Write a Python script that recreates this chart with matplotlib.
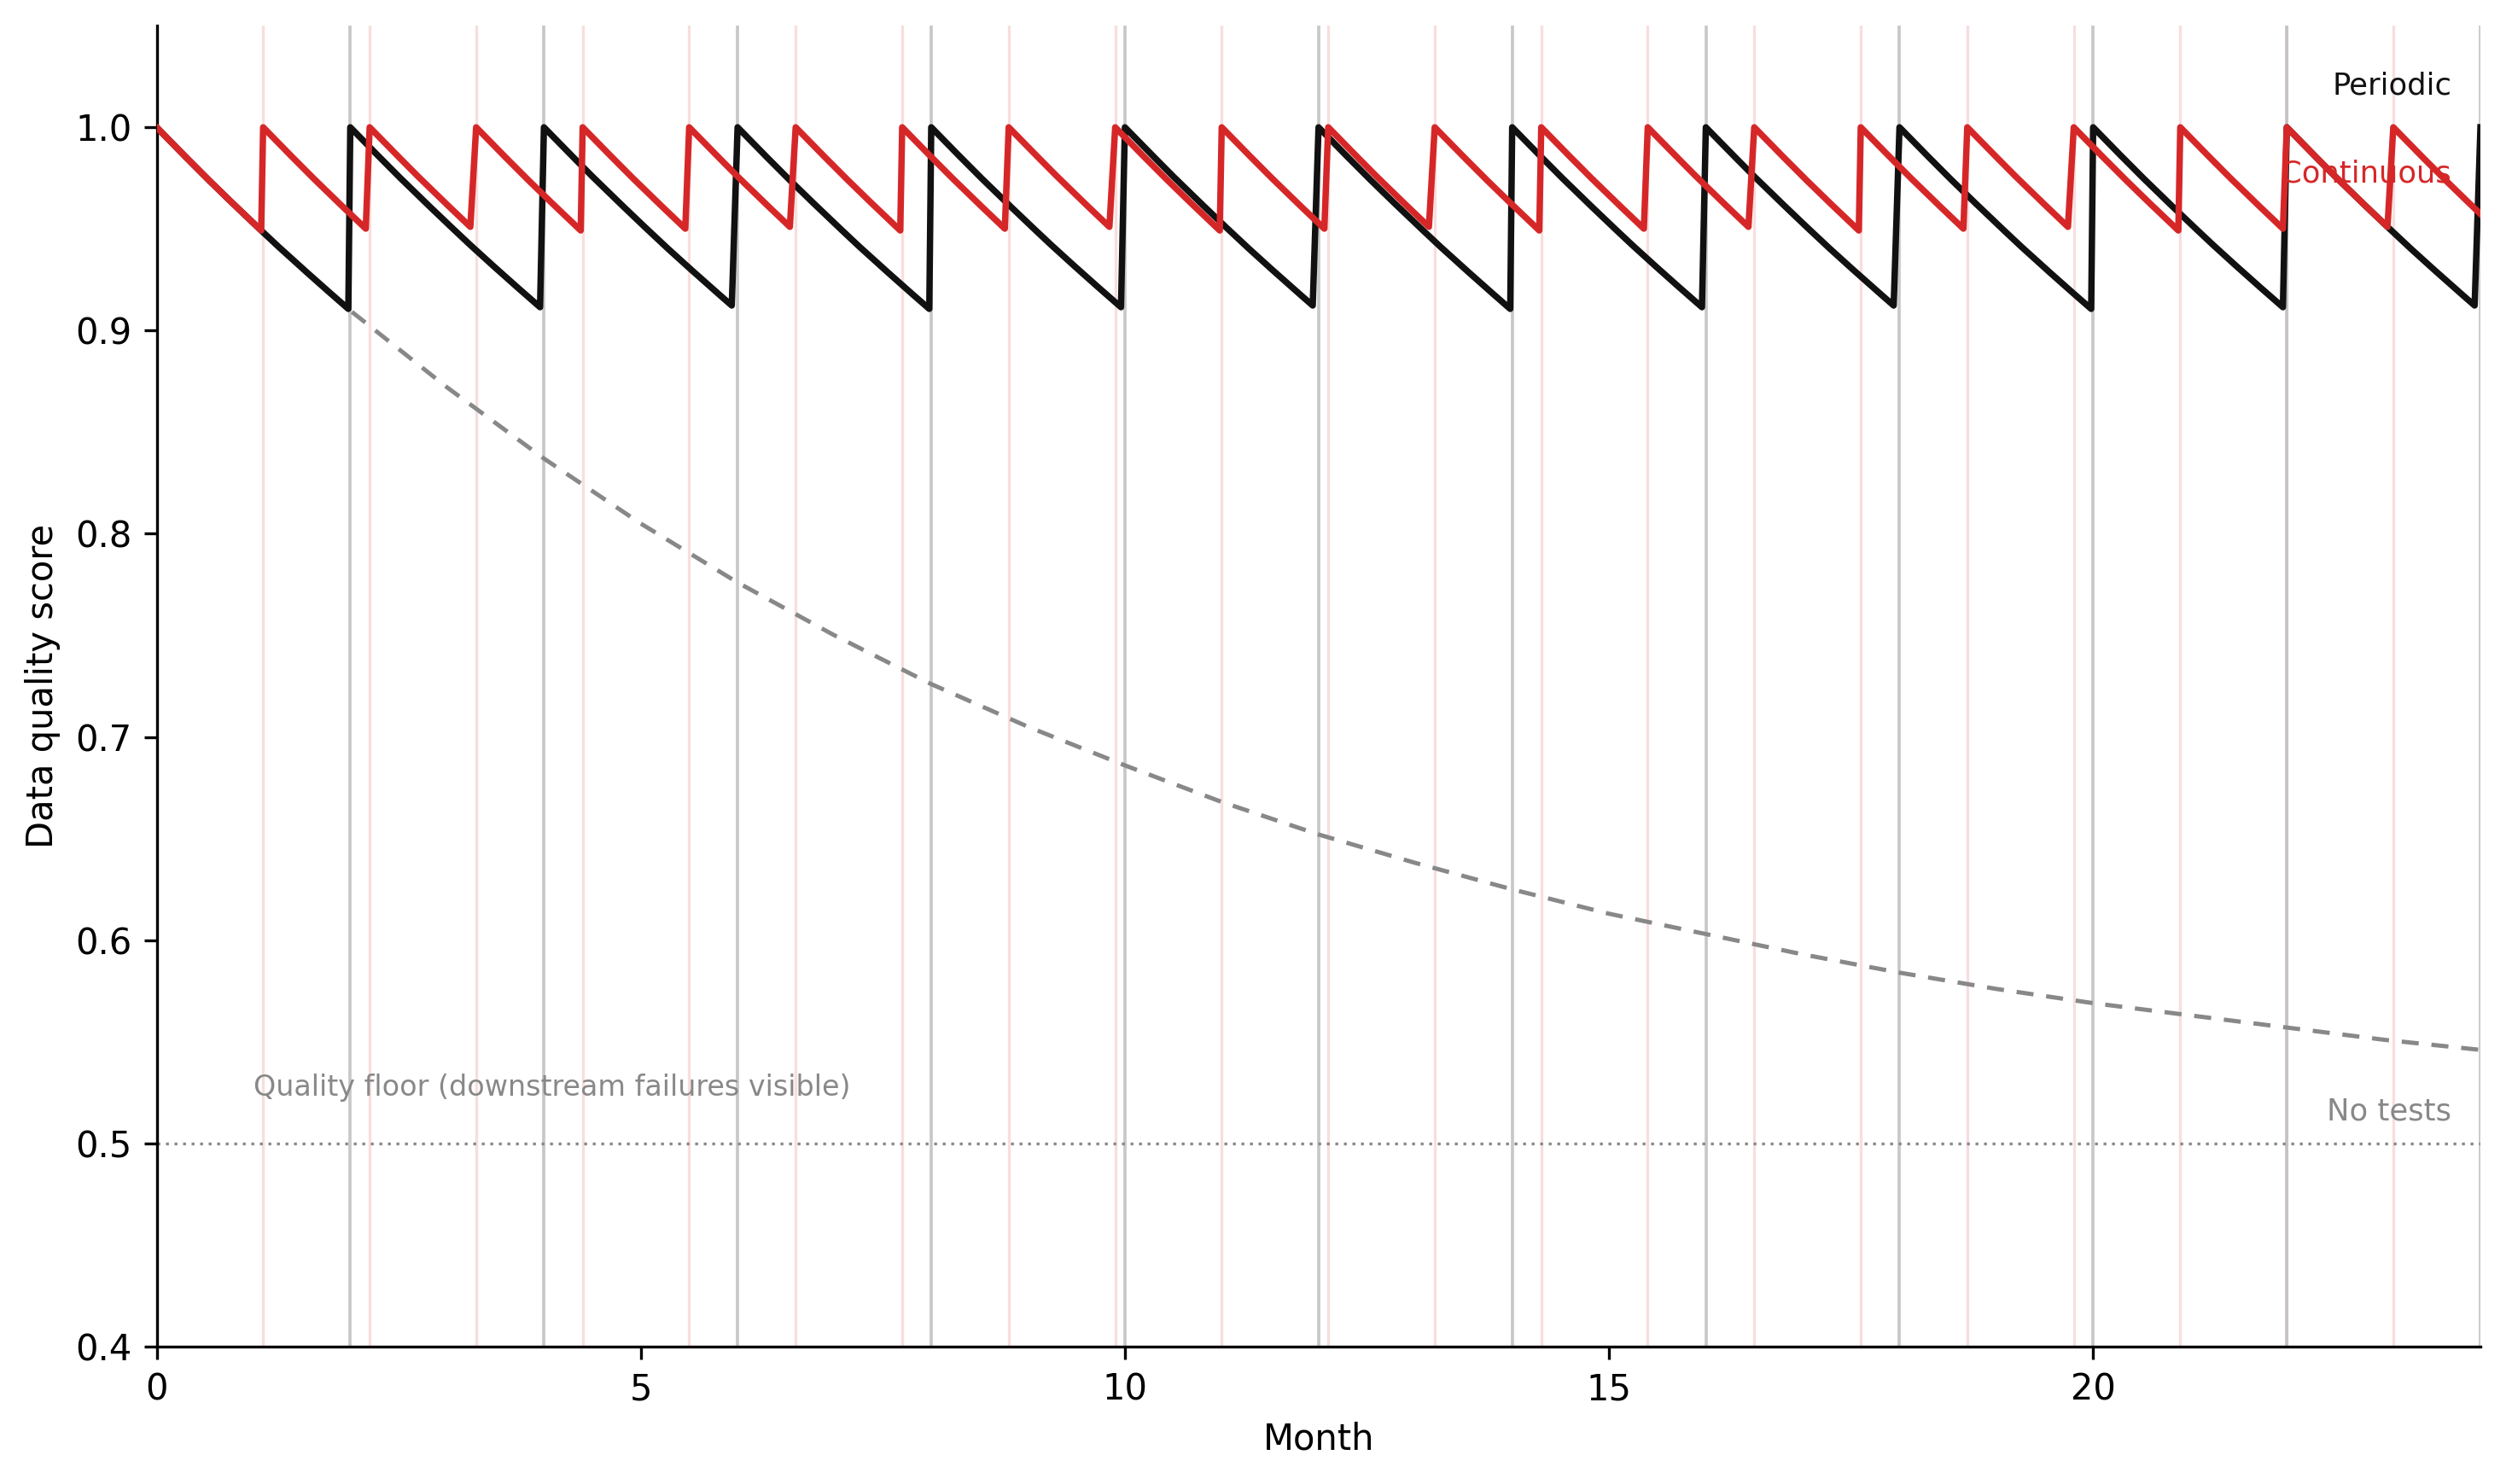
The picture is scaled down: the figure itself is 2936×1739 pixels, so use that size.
import numpy as np
import matplotlib
matplotlib.use("Agg")
import matplotlib.pyplot as plt

# quality decay since last reset (months -> score), read off the "No tests" curve
decay_months = [0, 0.25, 0.5, 0.75, 1, 1.25, 1.5, 1.75, 2, 3, 4, 5, 6, 7, 8, 9, 10,
                11, 12, 13, 14, 15, 16, 17, 18, 19, 20, 21, 22, 23, 24]
decay_score = [1.0000, 0.9878, 0.9758, 0.9642, 0.9528, 0.9416, 0.9308, 0.9202, 0.9098,
               0.872, 0.837, 0.805, 0.776, 0.750, 0.726, 0.705, 0.686, 0.668,
               0.652, 0.638, 0.625, 0.613, 0.603, 0.593, 0.584, 0.576, 0.569,
               0.563, 0.557, 0.551, 0.546]

# test runs that reset quality back to 1.0
periodic_resets = [0, 2, 4, 6, 8, 10, 12, 14, 16, 18, 20, 22, 24]
continuous_resets = [0, 1.1, 2.2, 3.3, 4.4, 5.5, 6.6, 7.7, 8.8, 9.9, 11.0, 12.1,
                     13.2, 14.3, 15.4, 16.5, 17.6, 18.7, 19.8, 20.9, 22.0, 23.1]

quality_floor = 0.5

grid = np.linspace(0, 24, 401)


def sawtooth(resets):
    resets = np.array(resets)
    t = np.unique(np.concatenate([grid, resets]))
    idx = np.searchsorted(resets, t + 1e-9, side="right") - 1
    age = np.clip(t - resets[idx], 0, None)
    return t, np.interp(age, decay_months, decay_score)


t_per, periodic = sawtooth(periodic_resets)
t_con, continuous = sawtooth(continuous_resets)

fig = plt.figure(figsize=(2936 / 300, 1739 / 300), dpi=300)
ax = fig.add_axes([0.0625, 0.0926, 0.9273, 0.8901])

for r in continuous_resets[1:]:
    ax.axvline(r, color="#d62728", alpha=0.15, lw=0.8, zorder=1)
for r in periodic_resets[1:]:
    ax.axvline(r, color="#bbbbbb", alpha=0.8, lw=0.9, zorder=1)

ax.axhline(quality_floor, color="#888888", lw=0.8, ls=(0, (1, 2)), zorder=2)
ax.plot(decay_months, decay_score, color="#888888", lw=1.2, ls=(0, (4, 3)), zorder=2)
ax.plot(t_per, periodic, color="#111111", lw=1.8, zorder=3)
ax.plot(t_con, continuous, color="#d62728", lw=1.8, zorder=4)

ax.text(23.7, 1.0205, "Periodic", color="#111111", fontsize=8.5, ha="right", va="center")
ax.text(23.7, 0.977, "Continuous", color="#d62728", fontsize=8.5, ha="right", va="center")
ax.text(23.7, 0.5155, "No tests", color="#888888", fontsize=8.5, ha="right", va="center")
ax.text(1.0, 0.5275, "Quality floor (downstream failures visible)", color="#888888",
        fontsize=8, ha="left", va="center")

ax.set_xlim(0, 24)
ax.set_ylim(0.4, 1.05)
ax.set_xticks([0, 5, 10, 15, 20])
ax.set_yticks([0.4, 0.5, 0.6, 0.7, 0.8, 0.9, 1.0])
ax.set_xlabel("Month", fontsize=10)
ax.set_ylabel("Data quality score", fontsize=10)
ax.tick_params(labelsize=10)
ax.spines["top"].set_visible(False)
ax.spines["right"].set_visible(False)

fig.savefig("out.png", dpi=300)
